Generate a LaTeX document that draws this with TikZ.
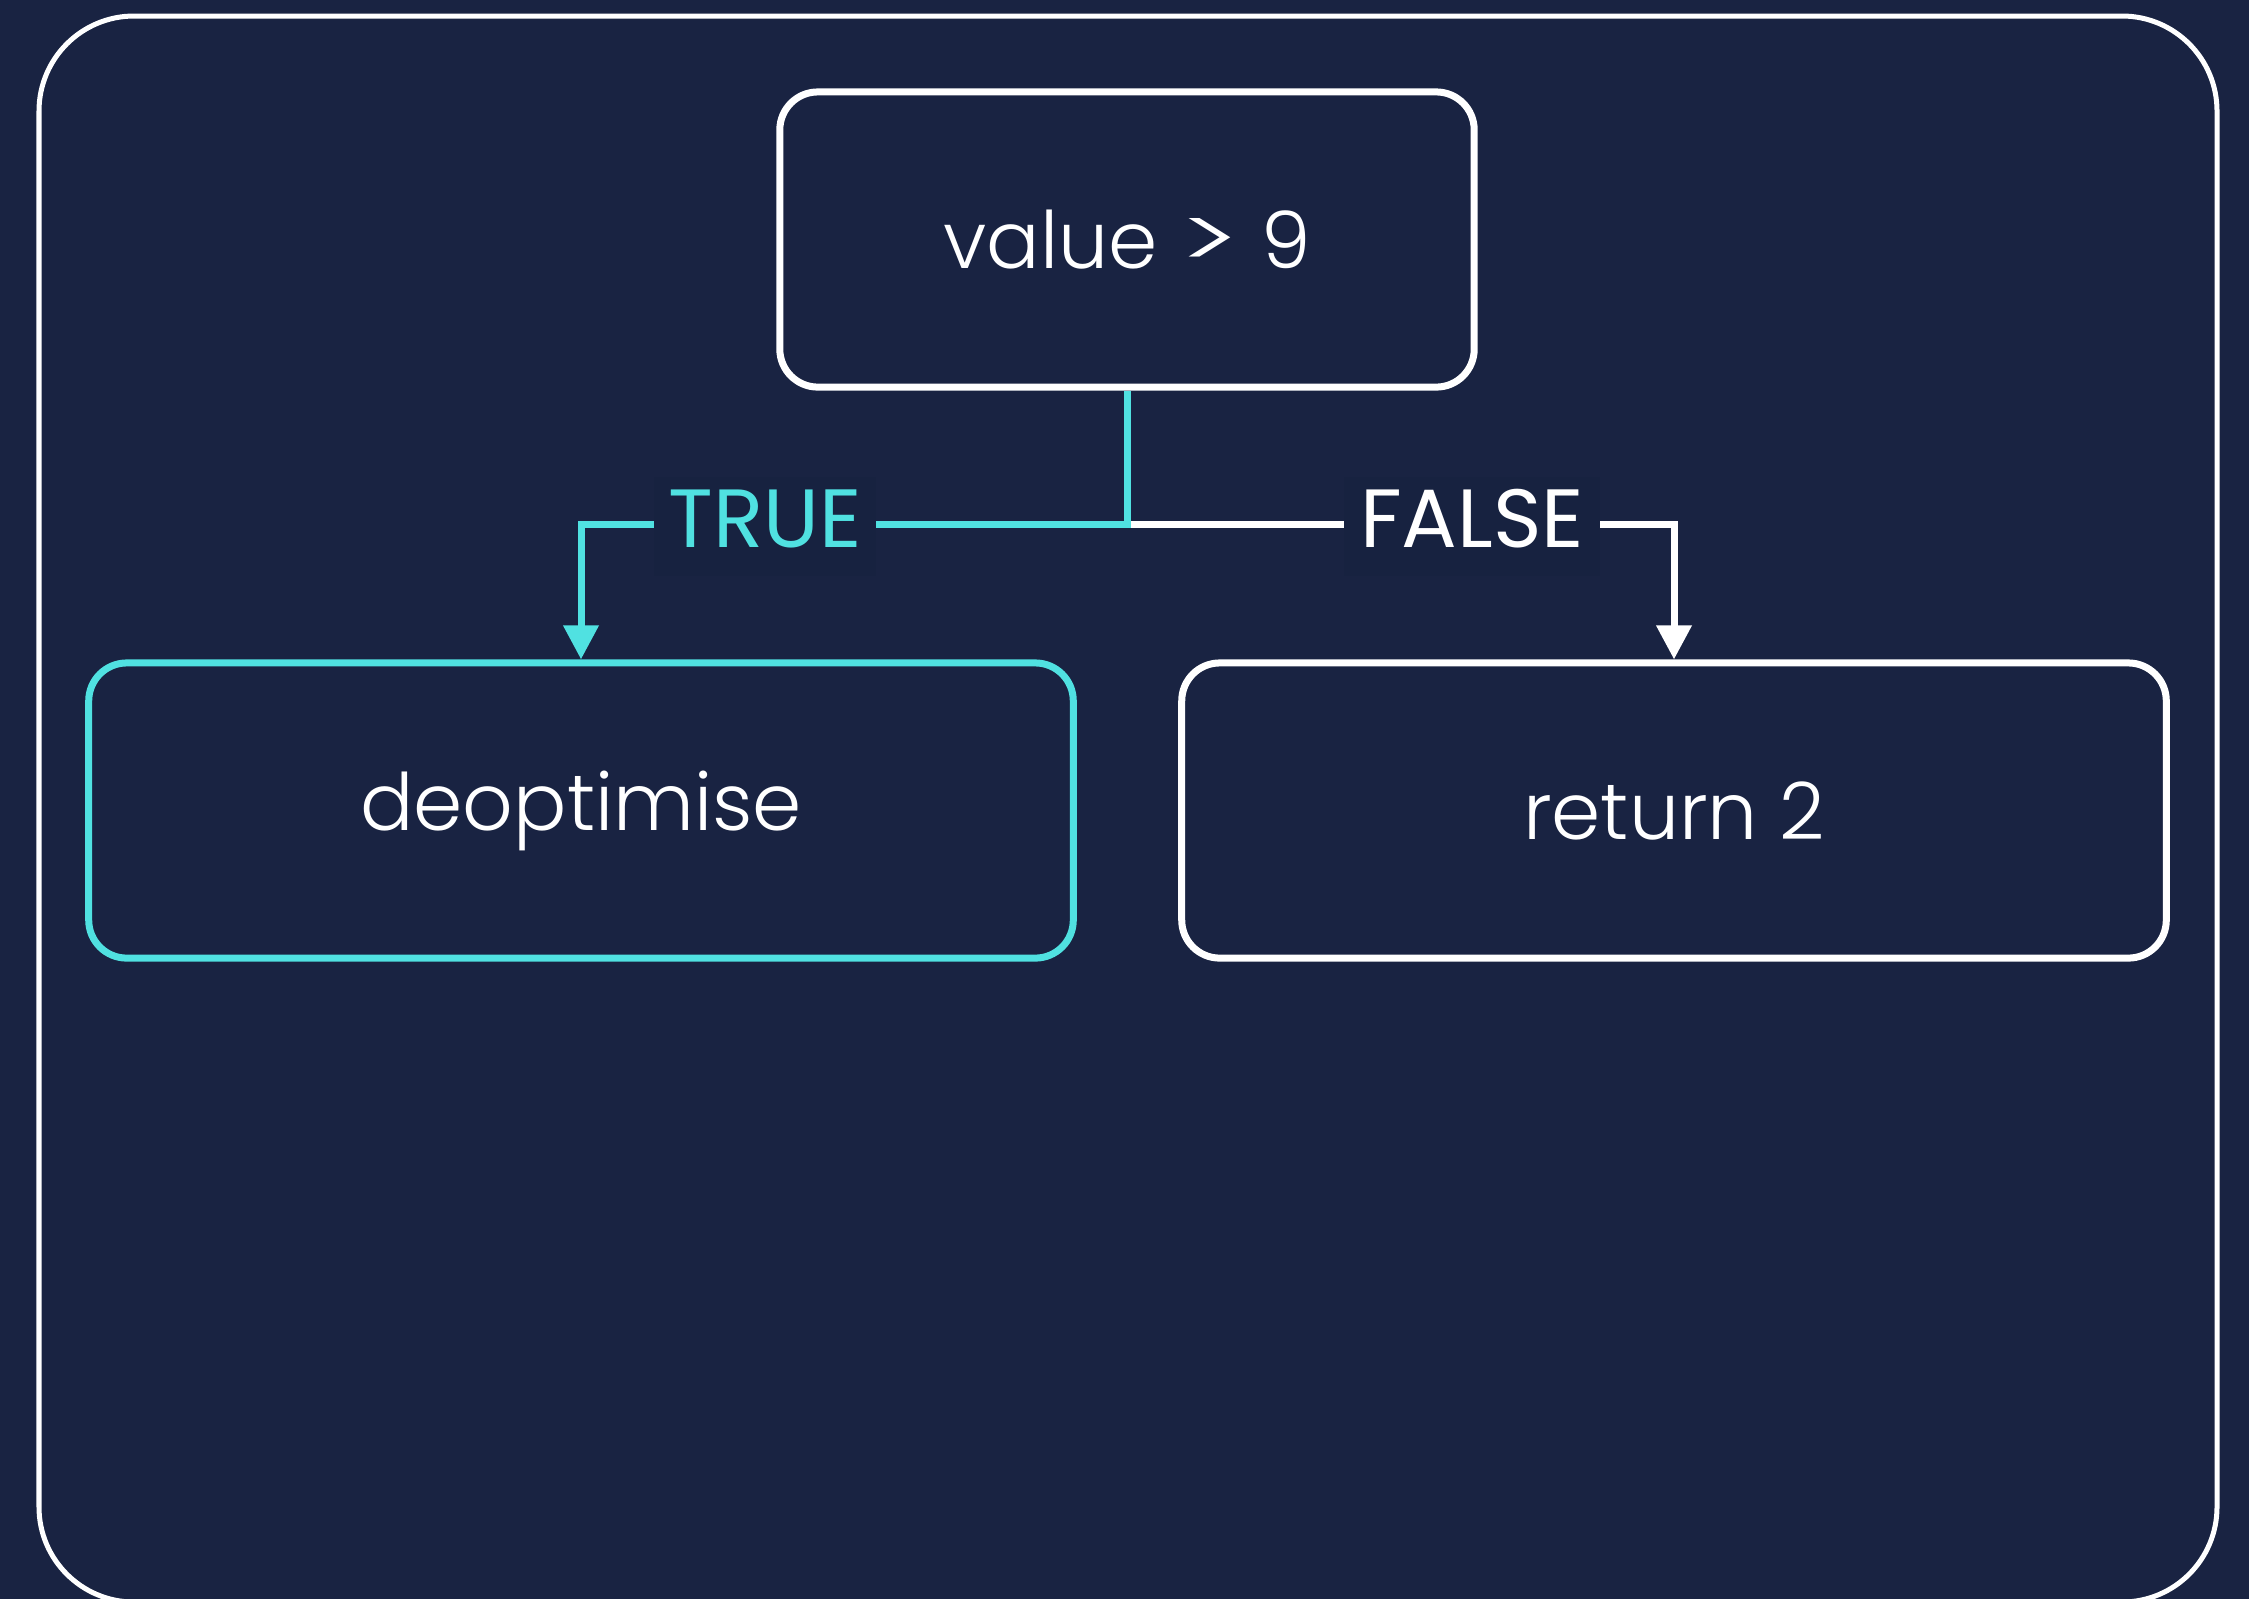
\documentclass[tikz,border=0pt]{standalone}
\usepackage{fontspec}
\setmainfont{Poppins}
\newfontfamily\lightfont{Poppins Light}
\usetikzlibrary{arrows.meta}
\definecolor{bg}{RGB}{25,35,66}
\definecolor{lblbg}{RGB}{23,34,64}
\definecolor{accent}{RGB}{80,225,225}
\begin{document}
\begin{tikzpicture}[x=0.01cm,y=-0.01cm,
  box/.style={draw=white, line width=0.07cm, rounded corners=0.38cm, fill=bg,
    minimum height=2.95cm, text=white, inner sep=0pt,
    font=\lightfont\fontsize{22.5}{28}\selectfont},
  lbl/.style={fill=lblbg, inner sep=0pt, minimum width=2.22cm,
    text height=0.70cm, text depth=0.29cm,
    font=\fontsize{23.5}{28}\selectfont},
  conn/.style={line width=0.07cm, -{Triangle[width=0.34cm,length=0.34cm]}}]
\fill[bg] (0,0) rectangle (2249,1599);
\useasboundingbox (0,0) rectangle (2249,1599);
\draw[white, line width=0.05cm, rounded corners=0.95cm] (39,16) rectangle (2217,1602);
\node[box, minimum width=6.94cm] (top) at (1127,239.5) {value \scalebox{1.55}[1.05]{>} 9};
\node[box, draw=accent, minimum width=9.84cm] (deopt) at (581,810.5) {deoptimise};
\node[box, minimum width=9.84cm] (ret) at (1674,810.5) {return 2};
\coordinate (j) at (1127,524);
\draw[conn, white] (j) -| (ret.north);
\draw[conn, accent] (top.south) -- (j) -| (deopt.north);
\node[lbl, text=accent] (t) at (765,526.5) {TRUE};
\node[lbl, text=white, minimum width=2.56cm] (f) at (1472,526.5) {FALSE};
\end{tikzpicture}
\end{document}
